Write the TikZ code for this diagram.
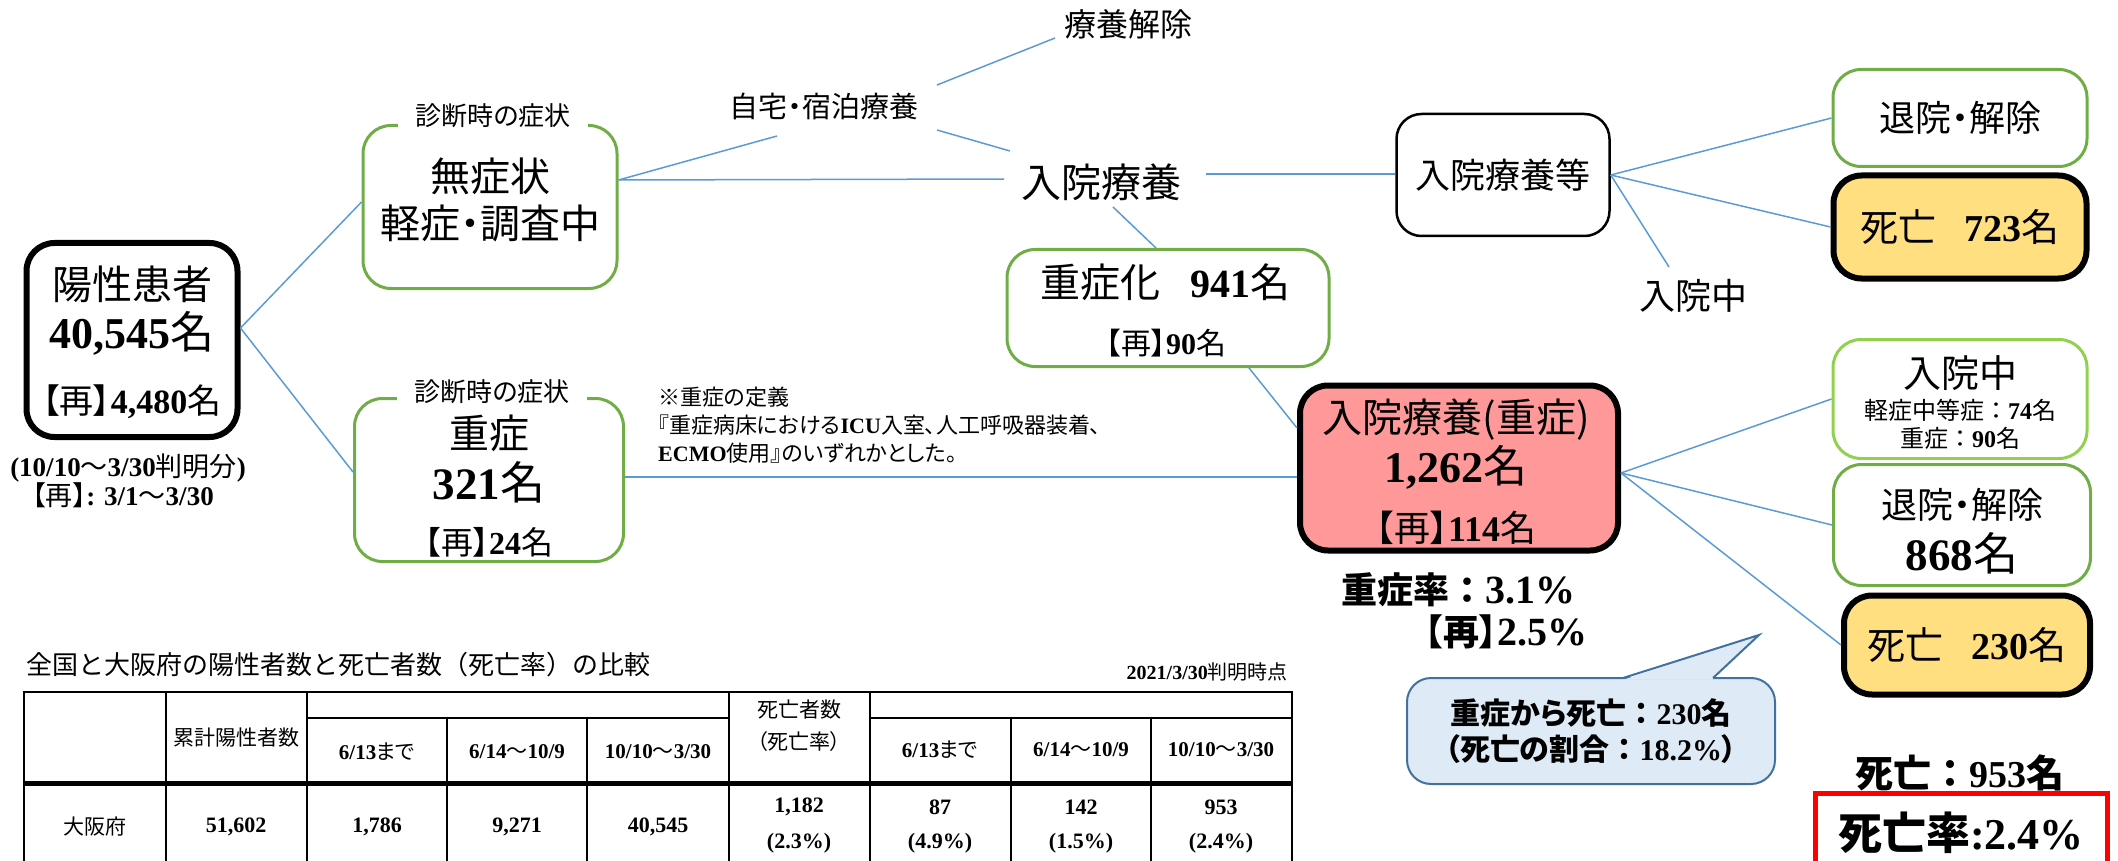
\documentclass[tikz,border=0pt]{standalone}
\usepackage{fontspec}
\setmainfont{Noto Sans CJK JP}[CharacterWidth=AlternateProportional]
\newfontfamily\jpfull{Noto Sans CJK JP}
\newfontfamily\numfont{Liberation Serif}

\definecolor{boxgreen}{HTML}{70AD47}
\definecolor{litegreen}{HTML}{92D050}
\definecolor{linkblue}{HTML}{5B9BD5}
\definecolor{severepink}{HTML}{FF9999}
\definecolor{deathyellow}{HTML}{FFDF80}
\definecolor{balloonfill}{HTML}{DEEBF7}
\definecolor{balloonline}{HTML}{41719C}

\newcommand\fs[1]{\fontsize{#1}{#1}\selectfont}
\newcommand\nb[1]{{\numfont\bfseries #1}}
\newcommand\fwcolon{{\jpfull ：}}

\tikzset{
  greenbox/.style={draw=boxgreen, line width=3pt, rounded corners=28pt},
  heavybox/.style={draw=black, line width=6pt, rounded corners=28pt},
  link/.style={draw=linkblue, line width=1.5pt},
  txt/.style={inner sep=0pt},
  tag/.style={fill=white, inner xsep=17pt, inner ysep=3pt, font=\fs{26}},
  tabline/.style={line width=2.5pt},
}

\begin{document}
\begin{tikzpicture}[x=1pt,y=-1pt]
\useasboundingbox (0,0) rectangle (2118,861);

% positives
\node[heavybox, minimum width=211pt, minimum height=194pt] (pos) at (132,340) {};
\node[txt, font=\fs{40}] (posA) at (132,284) {陽性患者};
\node[txt, font=\fs{44}] (posB) at (132,333) {\nb{40,545}名};
\node[txt, font=\fs{34}] (posC) at (132,402) {【再】\nb{4,480}名};
\node[txt, font=\fs{27}] (posD) at (128,468) {\nb{(10/10}～\nb{3/30}判明分\nb{)}};
\node[txt, font=\fs{27}] (posE) at (123,495) {【再】\nb{: 3/1}～\nb{3/30}};

% symptoms at diagnosis
\node[greenbox, minimum width=254pt, minimum height=163pt] (mild) at (490,207) {};
\node[tag] (mildtag) at (493,116) {診断時の症状};
\node[txt, font=\fs{40}] (mildA) at (490,176) {無症状};
\node[txt, font=\fs{40}] (mildB) at (490,223) {軽症・調査中};

\node[greenbox, minimum width=269pt, minimum height=163pt] (severe) at (489,480) {};
\node[tag] (severetag) at (492,392) {診断時の症状};
\node[txt, font=\fs{40}] (severeA) at (489,433) {重症};
\node[txt, font=\fs{45}] (severeB) at (489,482) {\nb{321}名};
\node[txt, font=\fs{32}] (severeC) at (489,542) {【再】\nb{24}名};

\node[txt, anchor=north west, align=left, font={\fontsize{22}{28}\selectfont}] (note) at (658,387)
  {※重症の定義\\『重症病床における\nb{ICU}入室、人工呼吸器装着、\\\nb{ECMO}使用』のいずれかとした。};

% middle
\node[txt, font=\fs{29}] (home) at (824,106) {自宅・宿泊療養};
\node[txt, font=\fs{32}] (release) at (1128,24) {療養解除};
\node[txt, font=\fs{40}] (hosp) at (1101,182) {入院療養};
\node[greenbox, minimum width=322pt, minimum height=117pt] (worsen) at (1168,308) {};
\node[txt, font=\fs{40}] (worsenA) at (1165,282) {重症化\hspace{30pt}\nb{941}名};
\node[txt, font=\fs{30}] (worsenB) at (1166,343) {【再】\nb{90}名};

\node[heavybox, fill=severepink, minimum width=318pt, minimum height=165pt] (pink) at (1459,468) {};
\node[txt, font=\fs{40}] (pinkA) at (1456,420) {入院療養(重症)};
\node[txt, font=\fs{44}] (pinkB) at (1456,467) {\nb{1,262}名};
\node[txt, font=\fs{36}] (pinkC) at (1456,528) {【再】\nb{114}名};
\node[txt, font=\fs{36}\bfseries] (rateA) at (1458,590) {重症率\fwcolon{\fs{40}\nb{3.1\%}}};
\node[txt, font=\fs{36}\bfseries] (rateB) at (1506,632) {【再】{\fs{40}\nb{2.5\%}}};

\node[draw=balloonline, fill=balloonfill, line width=2pt, rounded corners=24pt,
  minimum width=368pt, minimum height=106pt, align=center,
  font={\fontsize{30}{36}\selectfont\bfseries}] (ratio) at (1591,731)
  {重症から死亡\fwcolon\nb{230}名\\（死亡の割合\fwcolon\nb{18.2\%}）};
\fill[balloonfill] ([xshift=33pt,yshift=-2.5pt]ratio.north) -- ([xshift=168pt,yshift=42pt]ratio.north)
  -- ([xshift=121pt,yshift=-2.5pt]ratio.north) -- cycle;
\draw[balloonline, line width=2pt] ([xshift=32pt,yshift=-1pt]ratio.north) -- ([xshift=168pt,yshift=42pt]ratio.north)
  -- ([xshift=122pt,yshift=-1pt]ratio.north);

% right
\node[draw=black, line width=2.5pt, rounded corners=25pt, minimum width=213pt, minimum height=122pt,
  font=\fs{35}] (hospetc) at (1503,175) {入院療養等};
\node[txt, font=\fs{36}] (hospmid) at (1693,296) {入院中};
\node[greenbox, minimum width=254pt, minimum height=97pt, font=\fs{36}] (out1) at (1960,118) {退院・解除};
\node[heavybox, fill=deathyellow, minimum width=253pt, minimum height=103pt, font=\fs{38}] (death1) at (1960,227)
  {死亡\hspace{28pt}\nb{723}名};

\node[greenbox, draw=litegreen, minimum width=254pt, minimum height=119pt] (inhosp2) at (1960,399) {};
\node[txt, font=\fs{38}] (inhospA) at (1960,373) {入院中};
\node[txt, font=\fs{24}] (inhospB) at (1960,410) {軽症中等症\fwcolon\nb{74}名};
\node[txt, font=\fs{24}] (inhospC) at (1960,438) {重症\fwcolon\nb{90}名};
\node[greenbox, minimum width=257pt, minimum height=121pt] (disc2) at (1962,525) {};
\node[txt, font=\fs{36}] (discA) at (1962,505) {退院・解除};
\node[txt, font=\fs{45}] (discB) at (1962,553) {\nb{868}名};
\node[heavybox, fill=deathyellow, minimum width=246pt, minimum height=99pt, font=\fs{38}] (death2) at (1967,645)
  {死亡\hspace{28pt}\nb{230}名};

\node[txt, font=\fs{38}\bfseries] (total) at (1960,773) {死亡\fwcolon\nb{953}名};
\node[draw=red, line width=5pt, minimum width=292pt, minimum height=80pt, font=\fs{44}\bfseries] (deathrate) at (1961,833)
  {死亡率\nb{:2.4\%}};

% connectors
\draw[link] ([yshift=12pt]pos.east) -- ([yshift=5pt]mild.west);
\draw[link] ([yshift=12pt]pos.east) -- ([yshift=8pt]severe.west);
\draw[link] ([yshift=27pt]mild.east) -- ([xshift=-47pt,yshift=-30pt]home.center);
\draw[link] ([yshift=27pt]mild.east) -- ([xshift=-97pt,yshift=3pt]hosp.center);
\draw[link] ([xshift=113pt,yshift=21pt]home.center) -- ([xshift=-73pt,yshift=-14pt]release.center);
\draw[link] ([xshift=113pt,yshift=-24pt]home.center) -- ([xshift=-91pt,yshift=31pt]hosp.center);
\draw[link] ([xshift=105pt,yshift=8pt]hosp.center) -- ([yshift=1pt]hospetc.west);
\draw[link] ([xshift=12pt,yshift=-25pt]hosp.center) -- ([xshift=-12pt]worsen.north);
\draw[link] ([xshift=81pt]worsen.south) -- ([yshift=40pt]pink.west);
\draw[link] ([yshift=3pt]severe.east) -- ([yshift=-9pt]pink.west);
\draw[link] (hospetc.east) -- (out1.west);
\draw[link] (hospetc.east) -- (death1.west);
\draw[link] (hospetc.east) -- ([xshift=-24pt,yshift=29pt]hospmid.center);
\draw[link] ([yshift=-5pt]pink.east) -- (inhosp2.west);
\draw[link] ([yshift=-5pt]pink.east) -- (disc2.west);
\draw[link] ([yshift=-5pt]pink.east) -- (death2.west);

% table
\node[txt, font=\fs{26}\jpfull, anchor=west] (tabtitle) at (26,665) {全国と大阪府の陽性者数と死亡者数（死亡率）の比較};
\node[txt, font=\fs{20}, anchor=east] (tabdate) at (1288,672) {\nb{2021/3/30}判明時点};
\draw[tabline] (24,875) -- (24,692) -- (1292,692) -- (1292,875);
\foreach \x in {166,307,729,870} \draw[tabline] (\x,692) -- (\x,875);
\foreach \x in {447,587,1011,1151} \draw[tabline] (\x,718) -- (\x,875);
\draw[tabline] (307,718) -- (729,718) (870,718) -- (1292,718);
\draw[line width=5pt] (24,783) -- (1292,783);
\foreach \cx/\cy/\ct [count=\i] in {236/738/累計陽性者数, 377/752/{\nb{6/13}まで}, 517/752/{\nb{6/14}～\nb{10/9}},
  658/752/{\nb{10/10}～\nb{3/30}}, 799/710/死亡者数, 799/742/（死亡率）, 940/750/{\nb{6/13}まで},
  1081/750/{\nb{6/14}～\nb{10/9}}, 1221/750/{\nb{10/10}～\nb{3/30}}, 95/827/大阪府}
  \node[txt, font=\fs{21}] (head\i) at (\cx,\cy) {\ct};
\foreach \cx/\cy/\ct [count=\i] in {236/827/{51,602}, 377/827/{1,786}, 517/827/{9,271}, 658/827/{40,545},
  799/807/{1,182}, 799/843/{(2.3\%)}, 940/807/87, 940/843/{(4.9\%)}, 1081/807/142, 1081/843/{(1.5\%)},
  1221/807/953, 1221/843/{(2.4\%)}}
  \node[txt, font=\fs{22}] (data\i) at (\cx,\cy) {\nb{\ct}};
\end{tikzpicture}
\end{document}
